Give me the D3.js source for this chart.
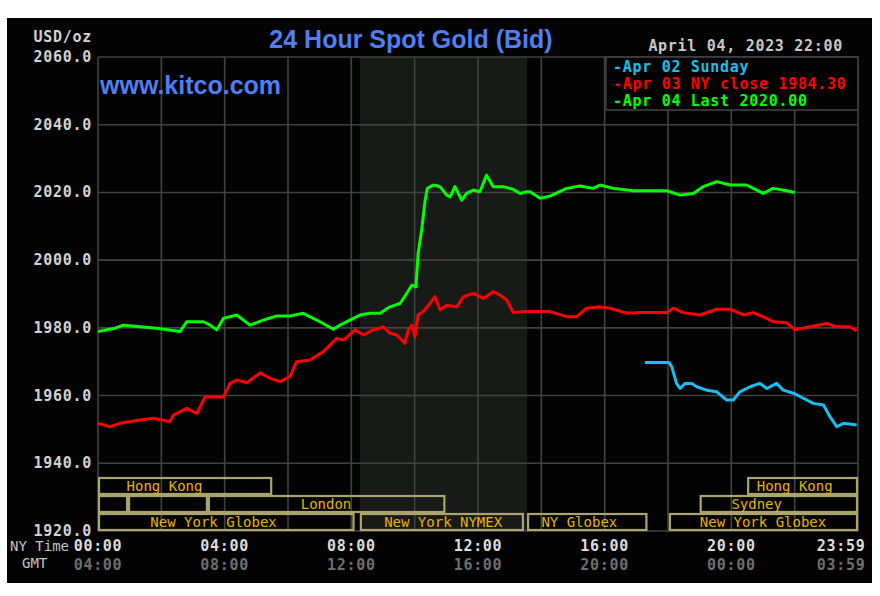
<!DOCTYPE html>
<html><head><meta charset="utf-8">
<script src="https://cdn.jsdelivr.net/npm/d3@7"></script>
<style>html,body{margin:0;padding:0;background:#fff;}</style>
</head><body>
<svg id="c" width="880" height="596"></svg>
<script>
// ---- data ----
const title = "24 Hour Spot Gold (Bid)";
const site = "www.kitco.com";
const stamp = "April 04, 2023 22:00";
const unitLabel = "USD/oz";
const yTicks = [1920, 1940, 1960, 1980, 2000, 2020, 2040, 2060];
const xGrid = [0, 2, 4, 6, 8, 10, 12, 14, 16, 18, 20, 22, 24];
const xTicks = [0, 4, 8, 12, 16, 20, 23.983];
const nyLabels = ["00:00", "04:00", "08:00", "12:00", "16:00", "20:00", "23:59"];
const gmtLabels = ["04:00", "08:00", "12:00", "16:00", "20:00", "00:00", "03:59"];
const legendLabels = ["-Apr 02 Sunday", "-Apr 03 NY close 1984.30", "-Apr 04 Last 2020.00"];
const nymexShade = [8.27, 13.55];

// sessions: [row (0 = bottom), start hour, end hour, label, label hour]
const sessions = [
  [2, 0, 5.5, "Hong Kong", 2.1],
  [2, 20.5, 24, "Hong Kong", 22.0],
  [1, 0, 0.95, "", 0],
  [1, 0.95, 3.47, "", 0],
  [1, 3.47, 10.97, "London", 7.2],
  [1, 19.0, 24, "Sydney", 20.8],
  [0, 0, 8.1, "New York Globex", 3.65],
  [0, 8.27, 13.45, "New York NYMEX", 10.9],
  [0, 13.55, 17.35, "NY Globex", 15.2],
  [0, 18.03, 24, "New York Globex", 21.0]
];

// series: [hour (NY time), price]
const apr02 = [
  [17.27,1969.8],[18.03,1969.8],[18.12,1968.5],[18.27,1963.6],[18.38,1962.1],[18.54,1963.6],
  [18.75,1963.6],[18.91,1962.6],[19.22,1961.6],[19.54,1961.1],[19.85,1958.7],[20.06,1958.7],
  [20.27,1961.1],[20.59,1962.6],[20.90,1963.6],[21.12,1962.1],[21.43,1963.6],[21.64,1961.6],
  [21.96,1960.7],[22.27,1959.2],[22.59,1957.7],[22.91,1957.2],[23.12,1953.7],[23.33,1950.8],
  [23.54,1951.8],[23.96,1951.3]
];
const apr03 = [
  [0.00,1951.8],[0.38,1950.8],[0.69,1951.8],[1.33,1952.8],[1.75,1953.3],[2.27,1952.3],
  [2.38,1954.2],[2.80,1956.2],[3.12,1954.7],[3.38,1959.6],[3.96,1959.6],[4.17,1963.6],
  [4.38,1964.6],[4.70,1963.8],[5.12,1966.7],[5.43,1965.1],[5.75,1964.1],[6.06,1965.6],
  [6.27,1970.0],[6.69,1970.5],[7.11,1972.9],[7.54,1976.9],[7.75,1976.4],[8.12,1979.4],
  [8.38,1977.9],[8.69,1979.4],[9.01,1980.3],[9.22,1978.4],[9.43,1977.9],[9.59,1976.4],
  [9.69,1975.4],[9.80,1979.4],[9.91,1980.8],[10.01,1977.4],[10.11,1983.8],[10.27,1984.8],
  [10.48,1987.2],[10.64,1989.2],[10.80,1985.3],[11.01,1986.7],[11.33,1986.2],[11.54,1989.2],
  [11.85,1990.2],[12.17,1988.7],[12.48,1990.7],[12.69,1989.7],[12.91,1988.2],[13.11,1984.5],
  [13.43,1984.8],[13.75,1984.8],[14.27,1984.8],[14.80,1983.3],[15.12,1983.3],[15.43,1985.8],
  [15.85,1986.2],[16.17,1985.8],[16.70,1984.3],[17.12,1984.5],[17.96,1984.5],[18.17,1985.8],
  [18.48,1984.5],[19.01,1983.8],[19.54,1985.5],[19.96,1985.5],[20.38,1983.8],[20.69,1984.5],
  [21.12,1982.8],[21.32,1981.8],[21.75,1981.5],[22.01,1979.4],[22.48,1980.3],[23.01,1981.3],
  [23.32,1980.3],[23.75,1980.3],[23.96,1979.1]
];
const apr04 = [
  [0.00,1978.9],[0.54,1979.9],[0.80,1980.8],[1.33,1980.3],[1.85,1979.9],[2.59,1978.9],
  [2.80,1981.8],[3.33,1981.8],[3.54,1980.8],[3.75,1979.4],[3.96,1982.8],[4.38,1983.8],
  [4.80,1980.8],[5.22,1982.3],[5.64,1983.5],[6.06,1983.5],[6.48,1984.3],[7.01,1981.8],
  [7.43,1979.6],[7.64,1980.8],[7.96,1982.3],[8.27,1983.8],[8.59,1984.3],[8.91,1984.3],
  [9.22,1986.2],[9.54,1987.2],[9.75,1990.2],[9.91,1992.6],[10.04,1992.1],[10.11,2002.0],
  [10.22,2008.9],[10.33,2017.7],[10.40,2021.2],[10.59,2022.2],[10.80,2021.7],[11.01,2019.2],
  [11.12,2018.7],[11.27,2021.7],[11.49,2017.7],[11.64,2019.7],[11.85,2020.7],[12.06,2020.2],
  [12.27,2025.1],[12.48,2021.7],[12.80,2021.7],[13.11,2020.9],[13.33,2019.7],[13.54,2020.2],
  [13.64,2020.2],[13.96,2018.3],[14.27,2018.9],[14.80,2021.2],[15.22,2021.9],[15.64,2021.2],
  [15.85,2022.2],[16.27,2021.2],[16.90,2020.5],[17.96,2020.5],[18.38,2019.2],[18.80,2019.7],
  [19.11,2021.7],[19.54,2023.2],[19.96,2022.2],[20.48,2022.2],[21.01,2019.7],[21.32,2021.2],
  [21.75,2020.5],[22.00,2020.0]
];
const seriesList = [apr02, apr03, apr04];
const seriesColors = ["#18bff0", "#ff0000", "#00ff00"];

// ---- drawing ----
const svg = d3.select("#c");
const L = 98, R = 858, T = 57, B = 531;
const x = d3.scaleLinear().domain([0, 24]).range([L, R]);
const y = d3.scaleLinear().domain([1920, 2060]).range([B, T]);
const mono = "'DejaVu Sans Mono', monospace";
const sans = "'Liberation Sans', Arial, sans-serif";
const gridCol = "#424242";

svg.append("rect").attr("x", 7).attr("y", 18).attr("width", 865).attr("height", 565).attr("fill", "#030303");

// NYMEX shading
svg.append("rect").attr("x", x(nymexShade[0])).attr("y", T)
  .attr("width", x(nymexShade[1]) - x(nymexShade[0])).attr("height", B - T).attr("fill", "#181a18");

// grid
svg.append("g").selectAll("line").data(xGrid).join("line")
  .attr("x1", d => x(d)).attr("x2", d => x(d)).attr("y1", T).attr("y2", B)
  .attr("stroke", gridCol).attr("stroke-width", 1.6);
svg.append("g").selectAll("line").data(yTicks).join("line")
  .attr("x1", L).attr("x2", R).attr("y1", d => y(d)).attr("y2", d => y(d))
  .attr("stroke", gridCol).attr("stroke-width", 1.6);

// session boxes
const rowH = 18;
const sg = svg.append("g");
sg.selectAll("rect").data(sessions).join("rect")
  .attr("x", d => x(d[1]) + 1).attr("y", d => B - (d[0] + 1) * rowH + 1)
  .attr("width", d => x(d[2]) - x(d[1]) - 2).attr("height", rowH - 2)
  .attr("fill", "none").attr("stroke", "#aaa46e").attr("stroke-width", 2.2);
sg.selectAll("text").data(sessions.filter(d => d[3])).join("text")
  .attr("x", d => x(d[4])).attr("y", d => B - d[0] * rowH - 4)
  .attr("text-anchor", "middle").attr("fill", "#e6b400")
  .attr("font-family", mono).attr("font-size", 14).text(d => d[3]);

// lines
const clip = svg.append("clipPath").attr("id", "pc").append("rect")
  .attr("x", L).attr("y", T).attr("width", R - L).attr("height", B - T);
const line = d3.line().x(d => x(d[0])).y(d => y(d[1]));
svg.append("g").attr("clip-path", "url(#pc)").selectAll("path").data(seriesList).join("path")
  .attr("d", line).attr("fill", "none")
  .attr("stroke", (d, i) => seriesColors[i]).attr("stroke-width", 3)
  .attr("stroke-linejoin", "round");

// legend
svg.append("rect").attr("x", 606).attr("y", T).attr("width", R - 606).attr("height", 53)
  .attr("fill", "#030303").attr("stroke", gridCol).attr("stroke-width", 1.6);
svg.append("g").selectAll("text").data(legendLabels).join("text")
  .attr("x", 613).attr("y", (d, i) => 72 + i * 17)
  .attr("fill", (d, i) => seriesColors[i]).attr("font-family", mono).attr("font-weight", "bold")
  .attr("font-size", 15).attr("letter-spacing", 0.7).text(d => d);

// y axis labels
svg.append("g").selectAll("text").data(yTicks).join("text")
  .attr("x", 92).attr("y", d => y(d) + 5).attr("text-anchor", "end")
  .attr("fill", "#d2d2d2").attr("font-family", mono).attr("font-weight", "bold")
  .attr("font-size", 15).attr("letter-spacing", 0.7).text(d => d.toFixed(1));
svg.append("text").attr("x", 92).attr("y", 42).attr("text-anchor", "end")
  .attr("fill", "#d2d2d2").attr("font-family", mono).attr("font-weight", "bold")
  .attr("font-size", 15).attr("letter-spacing", 0.7).text(unitLabel);

// x axis labels
const lastIdx = xTicks.length - 1;
function xLab(arr, yy, col) {
  svg.append("g").selectAll("text").data(xTicks).join("text")
    .attr("x", (d, i) => i === lastIdx ? x(d) + 8 : x(d))
    .attr("y", yy).attr("text-anchor", (d, i) => i === lastIdx ? "end" : "middle")
    .attr("fill", col).attr("font-family", mono).attr("font-weight", "bold")
    .attr("font-size", 15).attr("letter-spacing", 0.7).text((d, i) => arr[i]);
}
xLab(nyLabels, 551, "#dcdcdc");
xLab(gmtLabels, 570, "#6e6e6e");
svg.append("text").attr("x", 10).attr("y", 551).attr("fill", "#c4c4c4")
  .attr("font-family", mono).attr("font-size", 14).text("NY Time");
svg.append("text").attr("x", 22).attr("y", 568).attr("fill", "#c4c4c4")
  .attr("font-family", mono).attr("font-size", 14).text("GMT");

// titles
svg.append("text").attr("x", 411).attr("y", 48).attr("text-anchor", "middle")
  .attr("fill", "#4f7ff2").attr("font-family", sans).attr("font-weight", "bold")
  .attr("font-size", 25).text(title);
svg.append("text").attr("x", 100).attr("y", 94)
  .attr("fill", "#4f7ff2").attr("font-family", sans).attr("font-weight", "bold")
  .attr("font-size", 25).text(site);
svg.append("text").attr("x", 843).attr("y", 51).attr("text-anchor", "end")
  .attr("fill", "#c8c8c8").attr("font-family", mono).attr("font-weight", "bold")
  .attr("font-size", 15).attr("letter-spacing", 0.7).text(stamp);
</script>
</body></html>
